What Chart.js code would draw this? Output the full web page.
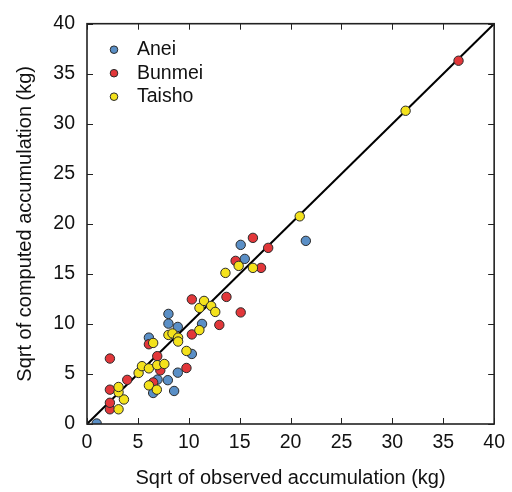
<!DOCTYPE html>
<html>
<head>
<meta charset="utf-8">
<script src="https://cdn.jsdelivr.net/npm/chart.js@4/dist/chart.umd.min.js"></script>
<style>
  html, body { margin: 0; padding: 0; background: #fff; }
  #wrap { width: 512px; height: 492px; }
</style>
</head>
<body>
<div id="wrap"><canvas id="chart" width="512" height="492"></canvas></div>
<script>
// observed (x) vs computed (y), sqrt of accumulation in kg
const aneiX = [0.95, 6.5, 8.56, 6.93, 7.94, 8.92, 10.3, 6.08, 8.92, 8.0, 8.0, 11.3, 15.1, 15.5, 21.5];
const aneiY = [0.05, 3.1, 3.3, 4.44, 4.38, 5.13, 7.0, 8.63, 9.7, 10.03, 11.0, 10.0, 17.9, 16.5, 18.3];

const bunmeiX = [2.25, 2.25, 2.25, 2.25, 3.95, 6.5, 7.2, 9.77, 6.9, 6.08, 10.3, 13.0, 15.1, 10.3, 13.7, 14.6, 17.1, 17.8, 16.3, 36.5];
const bunmeiY = [1.47, 2.12, 3.43, 6.54, 4.41, 4.15, 5.36, 5.6, 6.78, 7.97, 8.95, 9.9, 11.15, 12.45, 12.7, 16.3, 15.6, 17.6, 18.6, 36.3];

const taishoX = [3.1, 3.63, 3.1, 3.1, 6.08, 6.86, 5.07, 5.4, 6.08, 6.9, 7.6, 6.5, 9.77, 8.0, 8.4, 8.95, 8.95, 11.04, 11.05, 11.5, 12.2, 12.6, 13.6, 14.9, 16.3, 20.9, 31.3];
const taishoY = [1.47, 2.45, 3.17, 3.7, 3.86, 3.43, 5.1, 5.78, 5.56, 5.88, 6.0, 8.1, 7.3, 8.9, 9.05, 8.63, 8.24, 9.38, 11.6, 12.3, 11.8, 11.2, 15.1, 15.8, 15.6, 20.75, 31.3];

const oneToOne = [0, 40];
const tickValues = [0, 5, 10, 15, 20, 25, 30, 35, 40];

const FONT = "'Liberation Sans', Arial, Helvetica, sans-serif";

function pts(xs, ys) {
    return xs.map((x, i) => ({ x: x, y: ys[i] }));
}

function series(label, xs, ys, color, order) {
    return {
        label: label,
        data: pts(xs, ys),
        backgroundColor: color,
        borderColor: '#2a2a2a',
        borderWidth: 1,
        pointRadius: 4.7,
        order: order,
        clip: 0
    };
}

// frame + inward tick marks on all four sides
const frameTicks = {
    id: 'frameTicks',
    afterDatasetsDraw(chart) {
        const { ctx, chartArea: a, scales } = chart;
        ctx.save();
        ctx.strokeStyle = '#222';
        ctx.lineWidth = 1;
        tickValues.forEach(v => {
            const px = Math.round(scales.x.getPixelForValue(v)) + 0.5;
            const py = Math.round(scales.y.getPixelForValue(v)) + 0.5;
            ctx.beginPath();
            ctx.moveTo(px, a.bottom); ctx.lineTo(px, a.bottom - 6);
            ctx.moveTo(px, a.top); ctx.lineTo(px, a.top + 6);
            ctx.moveTo(a.left, py); ctx.lineTo(a.left + 6, py);
            ctx.moveTo(a.right, py); ctx.lineTo(a.right - 6, py);
            ctx.stroke();
        });
        ctx.lineWidth = 1.6;
        ctx.strokeRect(a.left, a.top, a.right - a.left, a.bottom - a.top);
        ctx.restore();
    }
};

// legend inside the top-left corner
const innerLegend = {
    id: 'innerLegend',
    afterDraw(chart) {
        const { ctx, chartArea: a } = chart;
        const items = chart.data.datasets.filter(d => d.label);
        ctx.save();
        ctx.font = '19.5px ' + FONT;
        ctx.textBaseline = 'middle';
        items.forEach((d, i) => {
            const y = a.top + 26 + i * 23.5;
            ctx.beginPath();
            ctx.arc(a.left + 27, y, 3.8, 0, Math.PI * 2);
            ctx.fillStyle = d.backgroundColor;
            ctx.fill();
            ctx.lineWidth = 1;
            ctx.strokeStyle = '#2a2a2a';
            ctx.stroke();
            ctx.fillStyle = '#111';
            ctx.fillText(d.label, a.left + 50, y);
        });
        ctx.restore();
    }
};

new Chart(document.getElementById('chart').getContext('2d'), {
    type: 'scatter',
    data: {
        datasets: [
            series('Anei', aneiX, aneiY, '#5a8fc6', 3),
            series('Bunmei', bunmeiX, bunmeiY, '#e2373a', 2),
            series('Taisho', taishoX, taishoY, '#f4e21c', 1),
            {
                type: 'line',
                label: '',
                data: pts(oneToOne, oneToOne),
                borderColor: '#000',
                borderWidth: 2,
                pointRadius: 0,
                fill: false,
                order: 4,
                clip: 0
            }
        ]
    },
    options: {
        responsive: false,
        animation: false,
        devicePixelRatio: 1,
        layout: { padding: { left: 10, right: 17, top: 16, bottom: 0 } },
        plugins: {
            legend: { display: false },
            tooltip: { enabled: false }
        },
        scales: {
            x: {
                type: 'linear',
                min: 0, max: 40,
                afterBuildTicks: s => { s.ticks = tickValues.map(v => ({ value: v })); },
                afterFit: s => { s.height = 68; },
                grid: { display: false, drawTicks: false },
                border: { display: false },
                ticks: { color: '#111', font: { family: FONT, size: 19.5 }, padding: 7, maxRotation: 0 },
                title: {
                    display: true,
                    text: 'Sqrt of observed accumulation (kg)',
                    color: '#111',
                    font: { family: FONT, size: 20 },
                    padding: { top: 0, bottom: 2 }
                }
            },
            y: {
                type: 'linear',
                min: 0, max: 40,
                afterBuildTicks: s => { s.ticks = tickValues.map(v => ({ value: v })); },
                afterFit: s => { s.width = 77; },
                grid: { display: false, drawTicks: false },
                border: { display: false },
                ticks: { color: '#111', font: { family: FONT, size: 19.5 }, padding: 12 },
                title: {
                    display: true,
                    text: 'Sqrt of computed accumulation (kg)',
                    color: '#111',
                    font: { family: FONT, size: 20 },
                    padding: { top: 3, bottom: 0 }
                }
            }
        }
    },
    plugins: [frameTicks, innerLegend]
});
</script>
</body>
</html>
